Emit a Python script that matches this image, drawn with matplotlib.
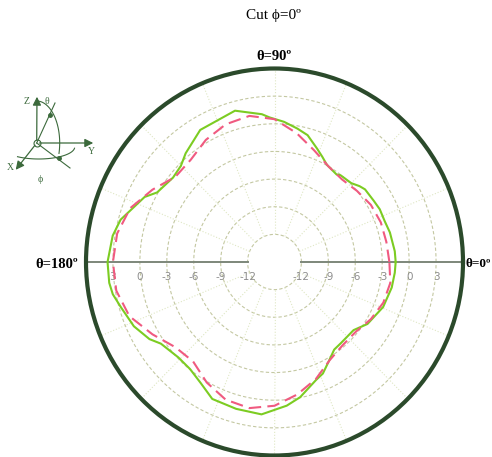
import numpy as np
import matplotlib
matplotlib.use("Agg")
import matplotlib.pyplot as plt

# gain cut (dB), angle in degrees
green_ang = [0, 5, 14, 20, 26, 31, 38, 41, 45, 52, 54, 58, 61, 65, 69, 75, 80, 86,
             92, 95, 105, 120, 130, 135, 141, 150, 154, 165, 171, 180, 187, 191,
             196, 204, 211, 215, 224, 231, 238, 245, 255, 265, 270, 275, 281, 290,
             294, 299, 305, 310, 320, 327, 338, 348, 355, 360]
green_db = [-1.5, -1.55, -1.75, -1.95, -1.95, -2.1, -2.2, -2.45, -2.9, -3.05, -3.25,
            -3.1, -2.95, -2.4, -1.8, -0.75, -0.3, 0.25, 0.7, 1.1, 2.0, 1.55, 0.4,
            -0.25, -0.45, 0.1, 1.1, 2.75, 3.25, 3.6, 3.55, 3.35, 2.8, 2.15, 1.25,
            0.45, -0.1, -0.05, 0.5, 1.4, 1.5, 1.6, 1.05, 0.65, -0.05, -1.4, -1.75,
            -2.6, -3.4, -3.5, -3.5, -2.65, -1.95, -1.65, -1.55, -1.5]

pink_ang = [0, 10, 20, 30, 40, 45, 50, 60, 70, 80, 90, 100, 110, 120, 130, 140, 150,
            160, 170, 180, 190, 200, 210, 220, 230, 240, 250, 260, 270, 280, 290,
            300, 310, 320, 330, 340, 350, 360]
pink_db = [-2.2, -2.35, -2.4, -2.6, -3.0, -3.2, -3.3, -3.0, -2.1, -0.8, 0.5, 1.1,
           0.9, 0.3, -0.5, -0.6, 0.7, 2.1, 2.8, 3.0, 2.9, 2.2, 0.7, -0.6, -0.9,
           0.1, 0.9, 1.1, 0.6, -0.4, -1.5, -2.7, -3.2, -3.2, -2.6, -2.1, -1.9, -2.2]

ring_vals = [-12, -9, -6, -3, 0, 3]
ring_labels = ["-12", "-9", "-6", "-3", "0", "3"]
r_min, r_max = -15, 6

W, H = 492, 457
fig = plt.figure(figsize=(W / 100, H / 100), dpi=100)

# polar axes box in pixels (slightly taller than wide, like the source)
left, right, top, bottom = 86, 463, 68.5, 455.5
ax = fig.add_axes([left / W, 1 - bottom / H, (right - left) / W, (bottom - top) / H],
                  projection="polar")
ax.set_aspect("auto")
ax.set_ylim(r_min, r_max)
ax.grid(False)
ax.set_xticks([])
ax.set_yticks([])
ax.spines["polar"].set_color("#2b4a2b")
ax.spines["polar"].set_linewidth(3)

th = np.linspace(0, 2 * np.pi, 400)
for rv in ring_vals:
    ax.plot(th, np.full_like(th, rv), color="#c4c8a2", lw=0.8, ls=(0, (3, 2)), zorder=1)
for a in np.arange(0, 360, 22.5):
    if a % 180 == 0:
        continue
    ax.plot([np.radians(a)] * 2, [-12, r_max], color="#dfe7c4", lw=0.8, ls=":", zorder=1)
for a in (0, 180):
    ax.plot([np.radians(a)] * 2, [-12, r_max], color="#7d877a", lw=1.4, zorder=2)

for rv, lab in zip(ring_vals, ring_labels):
    for a in (0, np.pi):
        ax.annotate(lab, (a, rv), xytext=(0, -11), textcoords="offset points",
                    ha="center", va="center", fontsize=7.5, color="#8c8c8c", zorder=3)

ax.plot(np.radians(green_ang), green_db, color="#7ccc22", lw=1.5, zorder=4)
ax.plot(np.radians(pink_ang), pink_db, color="#f05a80", lw=1.5, ls=(0, (6, 3)), zorder=5)

serif = ["Liberation Serif", "DejaVu Serif"]
fig.text(273 / W, 1 - 15 / H, "Cut \u03d5=0º", ha="center", va="center",
         fontsize=11, family=serif)
fig.text(274 / W, 1 - 57 / H, "θ=90º", ha="center", va="center",
         fontsize=10.5, fontweight="bold", family=serif)
fig.text(57 / W, 1 - 264 / H, "θ=180º", ha="center", va="center",
         fontsize=10.5, fontweight="bold", family=serif)
fig.text(466 / W, 1 - 264 / H, "θ=0º", ha="left", va="center",
         fontsize=9.5, fontweight="bold", family=serif)

# coordinate sketch at upper left
ic = fig.add_axes([0, 0, 1, 1], facecolor="none")
ic.set_xlim(0, W)
ic.set_ylim(H, 0)
ic.axis("off")
g = "#3c6a3c"
o = (36.7, 143)
for tip in [(37, 94), (96, 143), (14, 172)]:
    ic.annotate("", tip, xytext=o,
                arrowprops=dict(arrowstyle="-|>,head_length=0.5,head_width=0.25",
                                color=g, lw=0.9))
ic.plot([o[0], 55], [o[1], 103], color=g, lw=0.8)
ic.plot([o[0], 70], [o[1], 168], color=g, lw=0.8)
t = np.linspace(np.pi / 2, -0.25, 40)
ic.plot(o[0] + 23 * np.cos(t), o[1] - 42 * np.sin(t), color=g, lw=0.8)
t2 = np.linspace(-2.2, -0.1, 40)
ic.plot(o[0] + 36 * np.cos(t2) + 2, o[1] - 12 * np.sin(t2) + 4, color=g, lw=0.8)
ic.plot([50, 58.5], [115, 158], "o", color=g, ms=2.5)
ic.plot(o[0], o[1], "o", mfc="none", mec=g, ms=5, mew=0.8)
for s, x, y in [("Z", 27, 101), ("θ", 47, 102), ("Y", 91, 152), ("X", 10, 168), ("ϕ", 40, 180)]:
    ic.text(x, y, s, color=g, fontsize=7, ha="center", va="center", family=serif)

fig.savefig("out.png", dpi=100)
